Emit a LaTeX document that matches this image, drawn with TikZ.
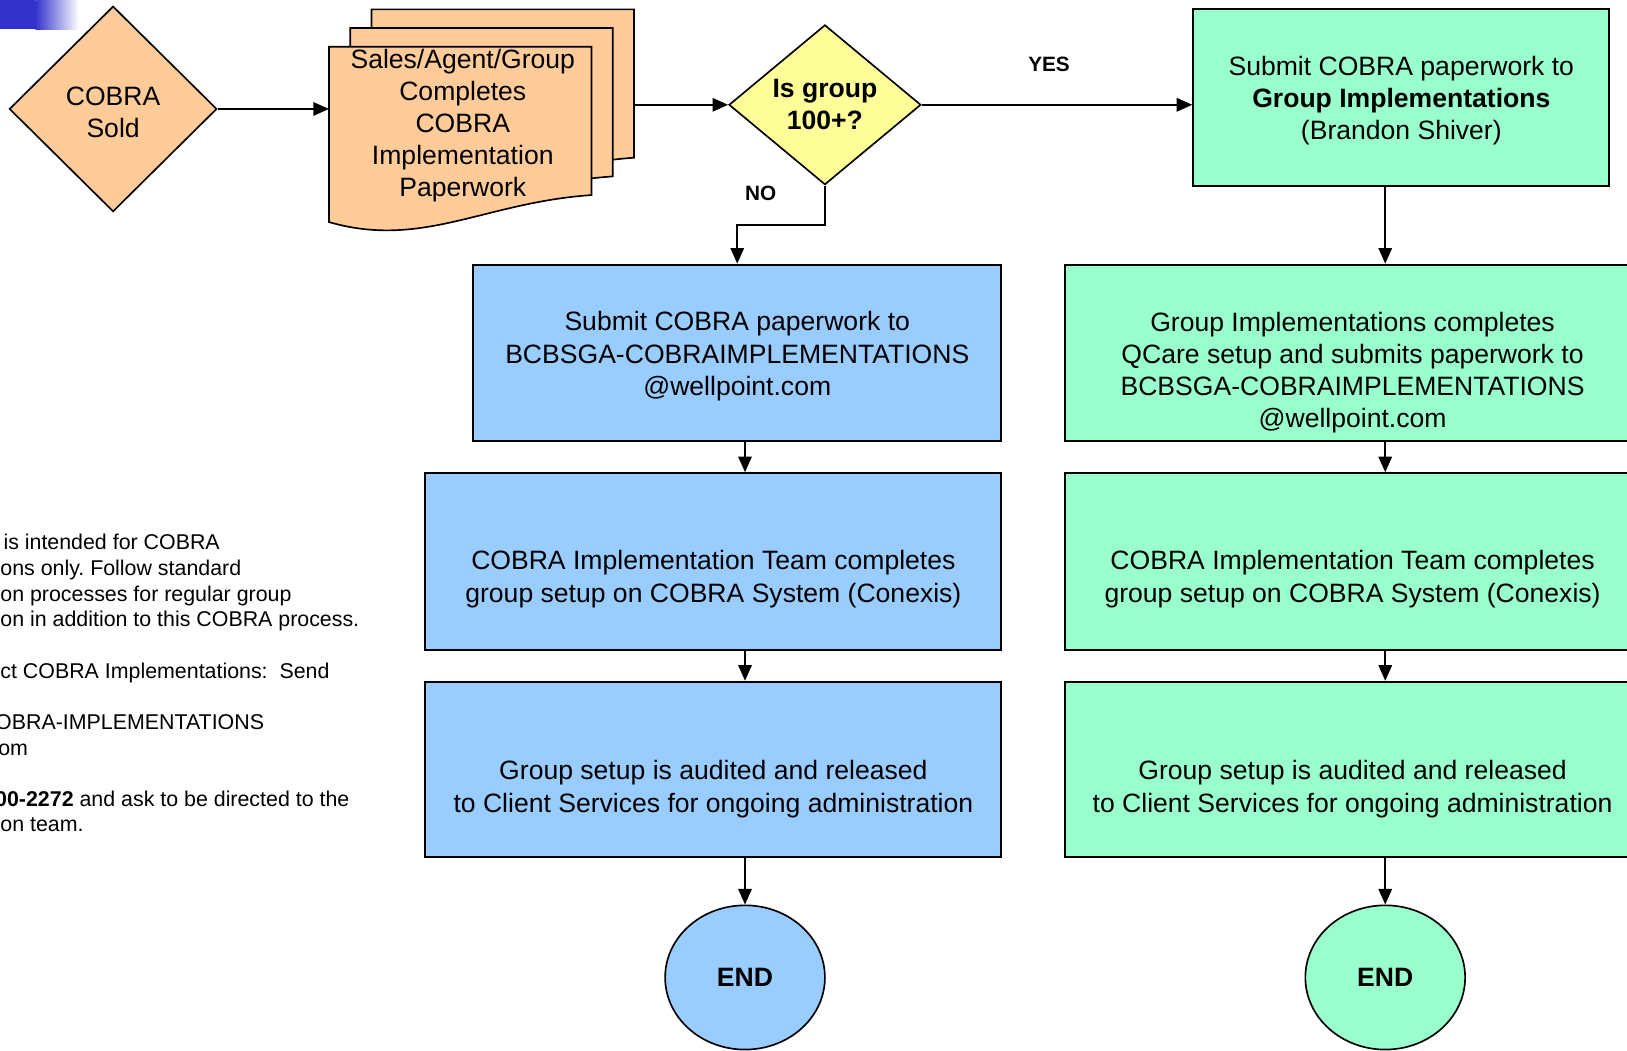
\documentclass[tikz,border=0pt]{standalone}
\usepackage{fontspec}
\setmainfont{Liberation Sans}
\usepackage{tikz}
\usetikzlibrary{shapes.geometric}
\usetikzlibrary{arrows.meta}
\usetikzlibrary{calc}
\definecolor{mypeach}{HTML}{FFCC99}
\definecolor{myyellow}{HTML}{FFFF99}
\definecolor{myblue}{HTML}{99CCFF}
\definecolor{mymint}{HTML}{99FFCC}
\definecolor{mybar}{HTML}{3333CC}
\frenchspacing
\newcommand{\topline}{\rule{0pt}{12.5pt}}
\newcommand{\gapline}{\rule[-4.65pt]{0pt}{17.5pt}}
\tikzset{every node/.style={align=center}}
\tikzstyle{block} = [draw, line width=0.95pt, inner sep=0pt, minimum height=85pt]
\tikzstyle{bluebox} = [block, fill=myblue]
\tikzstyle{greenbox} = [block, fill=mymint]
\tikzstyle{decide} = [draw, diamond, line width=0.8pt, inner sep=0pt]
\tikzstyle{endnode} = [draw, ellipse, line width=0.8pt, minimum width=77pt, minimum height=69.5pt, font={\fontsize{12.8}{15.5}\selectfont\bfseries}]
\tikzstyle{page} = [draw, line width=0.8pt, fill=mypeach]
\tikzstyle{answer} = [font={\fontsize{10}{12}\selectfont\bfseries}]
\tikzstyle{ln} = [draw, line width=0.75pt, -{Triangle[length=7.5pt,width=6.5pt]}]

\begin{document}
\begin{tikzpicture}[x=0.5pt, y=-0.5pt, font={\fontsize{12.8}{15.5}\selectfont}]
  \useasboundingbox (0,0) rectangle (1568,1012);
  \clip (0,0) rectangle (1568,1012);
  % corner bar
  \fill[mybar] (0,0) rectangle (34,28);
  \shade[left color=mybar, right color=white] (34,0) rectangle (76,28);
  % start
  \node[decide, fill=mypeach, minimum width=100pt, minimum height=99pt] (sold) at (109,105) {\topline COBRA\\Sold};
  % stacked paperwork
  \path[page, shift={(41,-36)}] (317,45) -- (570,45) -- (570,188) .. controls (467,195) and (407,240) .. (317,214) -- cycle;
  \path[page, shift={(20.5,-18)}] (317,45) -- (570,45) -- (570,188) .. controls (467,195) and (407,240) .. (317,214) -- cycle;
  \path[page] (317,45) -- (570,45) -- (570,188) .. controls (467,195) and (407,240) .. (317,214) -- cycle;
  \node (paper) at (446,118) {\topline Sales/Agent/Group\\Completes\\COBRA\\Implementation\\Paperwork};
  \coordinate (pgin) at (317,105);
  \coordinate (pgout) at (610,101);
  % decision
  \node[decide, fill=myyellow, minimum width=92.5pt, minimum height=77pt, aspect=1.2, font={\fontsize{12.8}{15.5}\selectfont\bfseries}] (dec) at (795,101) {Is group\\100+?};
  \node[answer] (yes) at (1011,62) {YES};
  \node[answer] (no) at (733,186) {NO};
  % NO branch
  \node[bluebox, minimum width=254.5pt] (sb1) at (710.5,340) {\topline Submit COBRA paperwork to\\BCBSGA-COBRAIMPLEMENTATIONS\\@wellpoint.com};
  \node[bluebox, minimum width=277.5pt] (sb2) at (687.5,541) {\strut\\COBRA Implementation Team completes\\group setup on COBRA System (Conexis)};
  \node[bluebox, minimum width=277.5pt, minimum height=84.5pt] (sb3) at (687.5,741.5) {\gapline\\Group setup is audited and released\\to Client Services for ongoing administration};
  \node[endnode, fill=myblue] (endb) at (718,942) {END};
  % YES branch
  \node[greenbox, minimum width=200.5pt] (gi) at (1350.5,94) {\topline Submit COBRA paperwork to\\\textbf{Group Implementations}\\(Brandon Shiver)};
  \node[greenbox, minimum width=277.5pt] (gi2) at (1303.5,340) {\gapline\\Group Implementations completes\\QCare setup and submits paperwork to\\BCBSGA-COBRAIMPLEMENTATIONS\\@wellpoint.com};
  \node[greenbox, minimum width=277.5pt] (gi3) at (1303.5,541) {\strut\\COBRA Implementation Team completes\\group setup on COBRA System (Conexis)};
  \node[greenbox, minimum width=277.5pt, minimum height=84.5pt] (gi4) at (1303.5,741.5) {\gapline\\Group setup is audited and released\\to Client Services for ongoing administration};
  \node[endnode, fill=mymint] (endg) at (1335,942) {END};
  % side notes
  \node[anchor=west, inner sep=0pt, align=left, font={\fontsize{10.3}{12.35}\selectfont}] (notes) at (0,658.5) {\hspace*{1.5pt}is intended for COBRA\\ons only. Follow standard\\on processes for regular group\\on in addition to this COBRA process.\\[12.35pt]ct COBRA Implementations:\ \ Send\\[12.35pt]\hspace*{-2.5pt}OBRA-IMPLEMENTATIONS\\\hspace*{-1pt}om\\[12.35pt]\hspace*{-2.5pt}\textbf{00-2272} and ask to be directed to the\\on team.};
  % connectors
  \draw[ln] (sold.east) -- (pgin);
  \draw[ln] (pgout) -- (dec.west);
  \draw[ln] (dec.east) -- (dec.east -| gi.west);
  \draw[ln] (dec.south) -- ++(0,38) -| (sb1.north);
  \draw[ln] (sb1.south -| endb) -- (sb2.north -| endb);
  \draw[ln] (sb2.south -| endb) -- (sb3.north -| endb);
  \draw[ln] (sb3.south -| endb) -- (endb.north);
  \draw[ln] (gi.south -| endg) -- (gi2.north -| endg);
  \draw[ln] (gi2.south -| endg) -- (gi3.north -| endg);
  \draw[ln] (gi3.south -| endg) -- (gi4.north -| endg);
  \draw[ln] (gi4.south -| endg) -- (endg.north);
\end{tikzpicture}
\end{document}
